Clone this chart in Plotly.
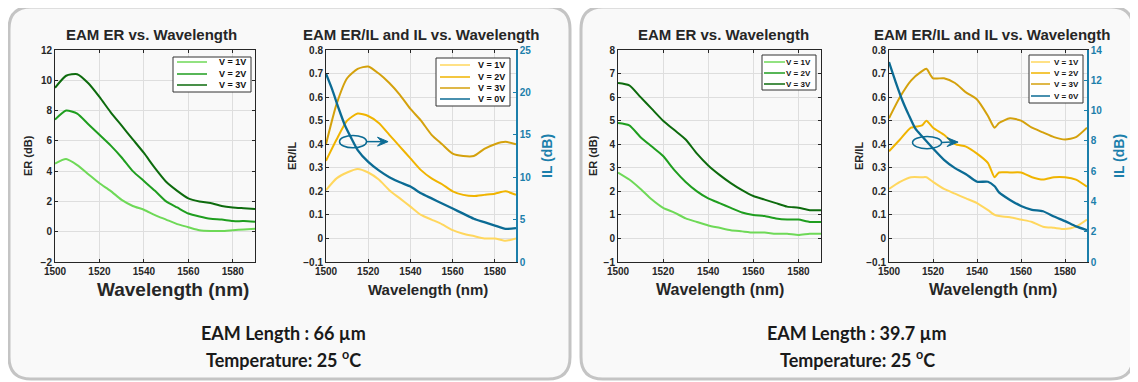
import plotly.graph_objects as go

# The page places the figure 8 px from the window's top-left corner,
# so the figure is made 8 px smaller and all layout pixels are shifted.
WIN_W, WIN_H = 1138, 382
OFF = 8
W, H = WIN_W - OFF, WIN_H - OFF

# ---------------- data ----------------
wl = [1500, 1505, 1510, 1515, 1520, 1525, 1530, 1535, 1540, 1545,
      1550, 1555, 1560, 1565, 1570, 1575, 1580, 1585, 1590]

# 66 um device, ER (dB)
er66_1v = [4.5, 4.8, 4.4, 3.8, 3.2, 2.7, 2.1, 1.7, 1.45, 1.1, 0.8, 0.5, 0.3, 0.1, 0.05, 0.05, 0.1, 0.15, 0.2]
er66_2v = [7.4, 8.0, 7.8, 7.1, 6.4, 5.7, 4.9, 4.0, 3.35, 2.7, 2.0, 1.6, 1.2, 1.0, 0.85, 0.8, 0.7, 0.7, 0.65]
er66_3v = [9.5, 10.3, 10.4, 9.8, 8.9, 7.9, 7.0, 6.1, 5.2, 4.2, 3.3, 2.7, 2.2, 2.0, 1.9, 1.7, 1.6, 1.55, 1.5]

# 66 um device, ER/IL
r66_1v = [0.205, 0.255, 0.28, 0.295, 0.28, 0.25, 0.205, 0.17, 0.135, 0.10, 0.08, 0.06, 0.035, 0.02, 0.01, 0.0, 0.0, -0.01, 0.0]
r66_2v = [0.33, 0.42, 0.50, 0.53, 0.52, 0.49, 0.44, 0.39, 0.34, 0.29, 0.255, 0.23, 0.20, 0.185, 0.18, 0.185, 0.19, 0.20, 0.185]
r66_3v = [0.40, 0.57, 0.68, 0.72, 0.73, 0.70, 0.66, 0.61, 0.55, 0.50, 0.44, 0.40, 0.36, 0.35, 0.35, 0.38, 0.40, 0.41, 0.40]

wl_il66 = [1500, 1503, 1506, 1509, 1512, 1515, 1520, 1525, 1530, 1535, 1540,
           1545, 1550, 1555, 1560, 1565, 1570, 1575, 1580, 1585, 1590]
il66 = [22.2, 20.3, 18.1, 16.1, 14.6, 13.2, 11.8, 10.8, 10.0, 9.4, 8.9,
        8.1, 7.5, 6.9, 6.3, 5.7, 5.1, 4.7, 4.3, 3.9, 4.0]

# 39.7 um device, ER (dB)
er40_1v = [2.8, 2.5, 2.1, 1.65, 1.3, 1.1, 0.85, 0.7, 0.55, 0.45, 0.35, 0.3, 0.25, 0.25, 0.2, 0.2, 0.15, 0.2, 0.2]
er40_2v = [4.9, 4.8, 4.3, 3.9, 3.5, 2.9, 2.4, 2.0, 1.7, 1.5, 1.3, 1.1, 1.0, 0.95, 0.85, 0.8, 0.8, 0.7, 0.7]
er40_3v = [6.6, 6.5, 6.0, 5.5, 5.0, 4.6, 4.2, 3.6, 3.1, 2.7, 2.35, 2.05, 1.8, 1.65, 1.5, 1.35, 1.3, 1.2, 1.2]

# 39.7 um device, ER/IL
wl_r40 = [1500, 1505, 1510, 1515, 1517, 1520, 1525, 1530, 1535, 1540, 1545,
          1548, 1550, 1555, 1560, 1565, 1570, 1575, 1580, 1585, 1590]
r40_1v = [0.21, 0.24, 0.26, 0.26, 0.26, 0.24, 0.21, 0.19, 0.17, 0.15, 0.12,
          0.10, 0.095, 0.09, 0.08, 0.07, 0.05, 0.045, 0.04, 0.05, 0.08]
r40_2v = [0.37, 0.42, 0.47, 0.48, 0.50, 0.47, 0.44, 0.40, 0.39, 0.36, 0.32,
          0.26, 0.28, 0.28, 0.28, 0.26, 0.25, 0.26, 0.26, 0.25, 0.22]
r40_3v = [0.51, 0.60, 0.67, 0.71, 0.72, 0.68, 0.68, 0.66, 0.62, 0.59, 0.52,
          0.47, 0.49, 0.51, 0.50, 0.47, 0.45, 0.43, 0.42, 0.43, 0.47]

wl_il40 = [1500, 1503, 1506, 1509, 1512, 1515, 1520, 1525, 1530, 1535, 1540,
           1545, 1548, 1550, 1555, 1560, 1565, 1570, 1575, 1580, 1585, 1590]
il40 = [13.2, 11.9, 10.7, 9.7, 8.8, 8.3, 7.5, 6.75, 6.2, 5.8, 5.3,
        5.3, 5.0, 4.6, 4.1, 3.7, 3.45, 3.35, 3.0, 2.7, 2.35, 2.1]

labels_v = ["V = 1V", "V = 2V", "V = 3V"]
label_0v = "V = 0V"
x_ticks = [1500, 1520, 1540, 1560, 1580]

# ---------------- style ----------------
GREENS = ["#6ed957", "#1f9e1f", "#0d6b0d"]
GOLDS = ["#ffd75e", "#f0b400", "#d4a10c"]
BLUE = "#0b6b94"
BLUE_AX = "#1c7fab"
FONT = "Liberation Sans"
DARK = "#262626"


def px(x):
    return (x - OFF) / W


def py(y):
    return 1 - (y - OFF) / H


fig = go.Figure()


def add(x, y, color, name, xa, ya, width=2.0):
    fig.add_trace(go.Scatter(
        x=x, y=y, mode="lines", name=name, xaxis=xa, yaxis=ya, showlegend=False,
        line=dict(color=color, width=width, shape="spline", smoothing=0.6),
        hoverinfo="skip"))


for c, s, n in zip(GREENS, [er66_1v, er66_2v, er66_3v], labels_v):
    add(wl, s, c, n, "x", "y")
for c, s, n in zip(GOLDS, [r66_1v, r66_2v, r66_3v], labels_v):
    add(wl, s, c, n, "x2", "y2")
add(wl_il66, il66, BLUE, label_0v, "x2", "y3", 2.3)
for c, s, n in zip(GREENS, [er40_1v, er40_2v, er40_3v], labels_v):
    add(wl, s, c, n, "x3", "y4")
for c, s, n in zip(GOLDS, [r40_1v, r40_2v, r40_3v], labels_v):
    add(wl_r40, s, c, n, "x4", "y5")
add(wl_il40, il40, BLUE, label_0v, "x4", "y6", 2.3)

tickfont = dict(family=FONT, size=10, color=DARK, weight="bold")


def xaxis(dom, anchor):
    return dict(domain=dom, anchor=anchor, range=[1500, 1590], tickvals=x_ticks,
                showgrid=True, gridcolor="#dedede", gridwidth=1,
                showline=True, linecolor=DARK, linewidth=1, mirror="ticks",
                ticks="inside", ticklen=3, tickcolor=DARK, tickfont=tickfont,
                zeroline=False, automargin=False, fixedrange=True)


def yaxis(dom, anchor, rng, dtick, mirror="ticks"):
    return dict(domain=dom, anchor=anchor, range=rng, dtick=dtick,
                showgrid=True, gridcolor="#dedede", gridwidth=1,
                showline=True, linecolor=DARK, linewidth=1, mirror=mirror,
                ticks="inside", ticklen=3, tickcolor=DARK, tickfont=tickfont,
                zeroline=False, automargin=False, fixedrange=True)


def ilaxis(over, anchor, rng, dtick):
    return dict(overlaying=over, side="right", anchor=anchor, range=rng, dtick=dtick,
                showgrid=False, showline=True, linecolor=BLUE_AX, linewidth=1.5,
                ticks="inside", ticklen=3, tickcolor=BLUE_AX,
                tickfont=dict(family=FONT, size=10, color=BLUE_AX, weight="bold"),
                zeroline=False, automargin=False, fixedrange=True)


ydom = [py(262), py(50)]
fig.update_layout(
    xaxis=xaxis([px(55), px(255)], "y"),
    yaxis=yaxis(ydom, "x", [-2, 12], 2),
    xaxis2=xaxis([px(326), px(516)], "y2"),
    yaxis2=yaxis(ydom, "x2", [-0.1, 0.8], 0.1, mirror=False),
    yaxis3=ilaxis("y2", "x2", [0, 25], 5),
    xaxis3=xaxis([px(618), px(821)], "y4"),
    yaxis4=yaxis(ydom, "x3", [-1, 8], 1),
    xaxis4=xaxis([px(889), px(1087)], "y5"),
    yaxis5=yaxis(ydom, "x4", [-0.1, 0.8], 0.1, mirror=False),
    yaxis6=ilaxis("y5", "x4", [0, 14], 2),
)

# ---------------- background boxes ----------------
def rounded(x0, y0, x1, y1, r):
    rx, ry = r / W, r / H
    X0, X1, Y0, Y1 = px(x0), px(x1), py(y0), py(y1)
    return (f"M {X0+rx},{Y0} L {X1-rx},{Y0} Q {X1},{Y0} {X1},{Y0-ry} "
            f"L {X1},{Y1+ry} Q {X1},{Y1} {X1-rx},{Y1} L {X0+rx},{Y1} "
            f"Q {X0},{Y1} {X0},{Y1+ry} L {X0},{Y0-ry} Q {X0},{Y0} {X0+rx},{Y0} Z")


shapes = []
for (a, b) in [(9, 570), (581, 1133)]:
    shapes.append(dict(type="path", path=rounded(a, 7, b, 379, 22), xref="paper", yref="paper",
                       line=dict(color="#c4c4c4", width=3), fillcolor="#f9f9f9", layer="below"))

# ellipse + arrow callouts pointing at the IL axis
callouts = [
    # xref, yref, ellipse x0, x1, y0, y1, arrow tip x, y, head length (nm), head half-height
    ("x2", "y2", 1506.4, 1519.2, 0.385, 0.437, 1529.4, 0.411, 5.0, 0.019),
    ("x4", "y5", 1510.7, 1523.9, 0.381, 0.433, 1531.4, 0.409, 5.0, 0.019),
]
for (xr, yr, ex0, ex1, ey0, ey1, tx, ty, hl, hh) in callouts:
    ey = (ey0 + ey1) / 2
    shapes.append(dict(type="circle", xref=xr, yref=yr, x0=ex0, x1=ex1, y0=ey0, y1=ey1,
                       line=dict(color=BLUE, width=1.5)))
    shapes.append(dict(type="line", xref=xr, yref=yr, x0=ex1, x1=tx - hl * 0.6, y0=ey, y1=ty,
                       line=dict(color=BLUE, width=1.5)))
    shapes.append(dict(type="path", xref=xr, yref=yr,
                       path=f"M {tx},{ty} L {tx-hl},{ty+hh} L {tx-hl*0.6},{ty} L {tx-hl},{ty-hh} Z",
                       fillcolor=BLUE, line=dict(color=BLUE, width=1)))

ann = []

# ---------------- legends (drawn manually) ----------------
legends = [
    (173, 57, 251, 92, 177, 207, 248, [62, 74, 85], GREENS, labels_v, 9),
    (436, 58, 510, 106, 440, 470, 507, [65, 77, 88, 99], GOLDS + [BLUE], labels_v + [label_0v], 9),
    (762, 55, 816, 90, 764, 785, 813, [62, 73, 84], GREENS, labels_v, 8),
    (1029, 55, 1083, 103, 1031, 1050, 1081, [62, 73, 84, 96], GOLDS + [BLUE], labels_v + [label_0v], 8),
]
for (bx0, by0, bx1, by1, lx0, lx1, tr, ys, cols, labs, fs) in legends:
    shapes.append(dict(type="rect", xref="paper", yref="paper", x0=px(bx0), x1=px(bx1),
                       y0=py(by1), y1=py(by0), fillcolor="white",
                       line=dict(color="#333333", width=1)))
    for yy, col, lab in zip(ys, cols, labs):
        shapes.append(dict(type="line", xref="paper", yref="paper", x0=px(lx0), x1=px(lx1),
                           y0=py(yy), y1=py(yy), line=dict(color=col, width=1.5)))
        ann.append(dict(x=px(tr), y=py(yy), xref="paper", yref="paper", text=lab, showarrow=False,
                        xanchor="right", yanchor="middle",
                        font=dict(family=FONT, size=fs, color="#111111", weight="bold")))

fig.update_layout(shapes=shapes)

title_font = dict(family=FONT, size=15, color=DARK, weight="bold")
for cx, t in [(151, "EAM ER vs. Wavelength"), (421, "EAM ER/IL and IL vs. Wavelength"),
              (723, "EAM ER vs. Wavelength"), (992, "EAM ER/IL and IL vs. Wavelength")]:
    ann.append(dict(x=px(cx), y=py(35), xref="paper", yref="paper", text=t, showarrow=False,
                    font=title_font, xanchor="center", yanchor="middle"))
for cx, fs in [(173, 19), (428, 15), (720, 16), (993, 16)]:
    ann.append(dict(x=px(cx), y=py(289), xref="paper", yref="paper", text="Wavelength (nm)",
                    showarrow=False, font=dict(family=FONT, size=fs, color=DARK, weight="bold"),
                    xanchor="center", yanchor="middle"))
for cx, t in [(28, "ER (dB)"), (292, "ER/IL"), (593, "ER (dB)"), (859, "ER/IL")]:
    ann.append(dict(x=px(cx), y=py(156), xref="paper", yref="paper", text=t, textangle=-90,
                    showarrow=False, font=dict(family=FONT, size=11, color=DARK, weight="bold"),
                    xanchor="center", yanchor="middle"))
for cx in [547, 1119]:
    ann.append(dict(x=px(cx), y=py(156), xref="paper", yref="paper", text="IL (dB)", textangle=-90,
                    showarrow=False, font=dict(family=FONT, size=14, color=BLUE_AX, weight="bold"),
                    xanchor="center", yanchor="middle"))
# bottom captions
cap_font = dict(family="Lato", size=18, color="#1a1a1a", weight="bold")
for cx, length in [(283, "66"), (857, "39.7")]:
    ann.append(dict(x=px(cx), y=py(333), xref="paper", yref="paper", xanchor="center",
                    yanchor="middle", text=f"EAM Length : {length} µm", showarrow=False,
                    font=cap_font))
    ann.append(dict(x=px(cx), y=py(359), xref="paper", yref="paper", xanchor="center",
                    yanchor="middle", text="Temperature: 25 <sup>o</sup>C", showarrow=False,
                    font=cap_font))
fig.update_layout(annotations=ann)

fig.update_layout(width=W, height=H, margin=dict(l=0, r=0, t=0, b=0, pad=0, autoexpand=False),
                  autosize=False, paper_bgcolor="white", plot_bgcolor="white", showlegend=False,
                  font=dict(family=FONT))

fig.write_html("out.html")
